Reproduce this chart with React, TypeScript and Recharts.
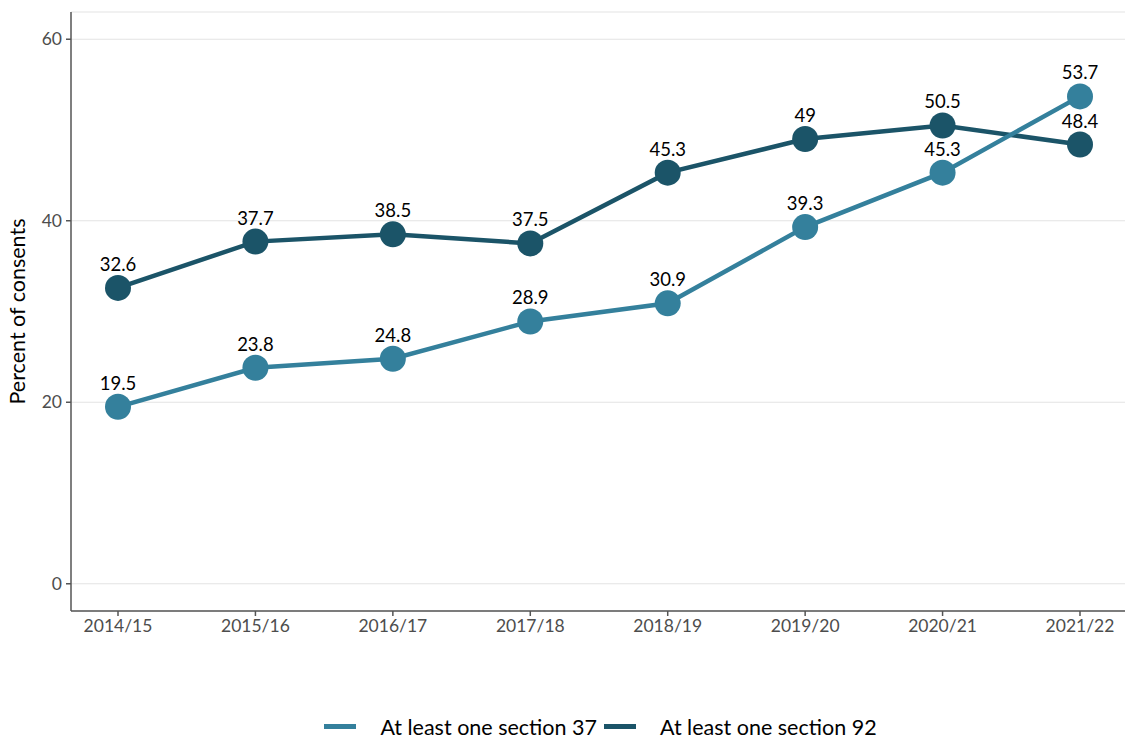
import React from "react";
import { CartesianGrid, LabelList, Legend, Line, LineChart, XAxis, YAxis } from "recharts";

const years = ["2014/15", "2015/16", "2016/17", "2017/18", "2018/19", "2019/20", "2020/21", "2021/22"];
const section37 = [19.5, 23.8, 24.8, 28.9, 30.9, 39.3, 45.3, 53.7];
const section92 = [32.6, 37.7, 38.5, 37.5, 45.3, 49, 50.5, 48.4];
const yTicks = [0, 20, 40, 60];

const series = [
  { key: "s37", name: "At least one section 37", color: "#34809c" },
  { key: "s92", name: "At least one section 92", color: "#1b5468" },
];

const data = years.map((year, i) => ({ year, s37: section37[i], s92: section92[i] }));

const FONT = "Lato, 'Open Sans', sans-serif";

function LegendContent() {
  return (
    <div
      style={{
        height: 79,
        boxSizing: "border-box",
        paddingTop: 53,
        paddingLeft: 76,
        display: "flex",
        justifyContent: "center",
        alignItems: "flex-start",
        fontFamily: FONT,
        fontSize: 21.5,
        color: "#000",
      }}
    >
      {series.map((s, i) => (
        <div key={s.key} style={{ display: "flex", alignItems: "center", height: 26, marginLeft: i ? 7 : 0 }}>
          <svg width={32} height={6} style={{ marginRight: 24 }}>
            <rect x={0} y={0} width={32} height={5} fill={s.color} />
          </svg>
          <span>{s.name}</span>
        </div>
      ))}
    </div>
  );
}

export default function App() {
  return (
    <div style={{ position: "absolute", left: 0, top: 0, width: 1125, height: 740, background: "#fff" }}>
      <LineChart width={1125} height={740} data={data} margin={{ top: 12, right: 0, bottom: 0, left: 0 }}>
        <CartesianGrid vertical={false} stroke="#e3e3e3" strokeWidth={1.2} />
        <XAxis
          dataKey="year"
          padding={{ left: 47, right: 45 }}
          stroke="#555"
          strokeWidth={1.5}
          tickSize={5}
          tick={{ fill: "#4d4d4d", fontSize: 17.5, fontFamily: FONT }}
          tickMargin={4}
          height={50}
        />
        <YAxis
          domain={[-3, 63]}
          ticks={yTicks}
          allowDataOverflow
          stroke="#555"
          strokeWidth={1.5}
          tickSize={5}
          tick={{ fill: "#4d4d4d", fontSize: 17.5, fontFamily: FONT }}
          tickMargin={4}
          width={71}
          label={{
            value: "Percent of consents",
            angle: -90,
            position: "insideLeft",
            dx: 12,
            style: { textAnchor: "middle", fill: "#000", fontSize: 21.5, fontFamily: FONT },
          }}
        />
        <Legend verticalAlign="bottom" height={79} content={<LegendContent />} />
        {[series[1], series[0]].map((s) => (
          <Line
            key={s.key}
            dataKey={s.key}
            name={s.name}
            stroke={s.color}
            strokeWidth={4.5}
            dot={{ r: 13, fill: s.color, stroke: s.color, strokeWidth: 0 }}
            activeDot={false}
            isAnimationActive={false}
          >
            <LabelList dataKey={s.key} position="top" offset={17} style={{ fill: "#000", fontSize: 18.5, fontFamily: FONT }} />
          </Line>
        ))}
      </LineChart>
    </div>
  );
}
